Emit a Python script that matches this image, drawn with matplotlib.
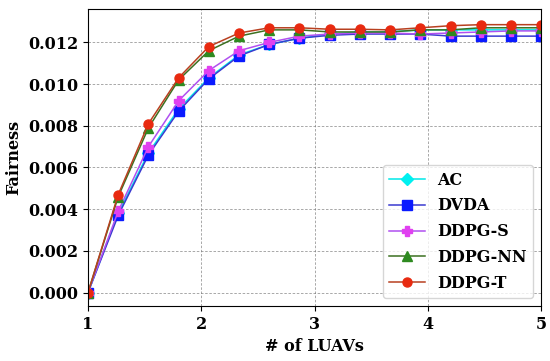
import numpy as np
import matplotlib
matplotlib.use('Agg')
from matplotlib import pyplot as plt

x = np.linspace(1, 5, 16)

ac = [0, 0.0038, 0.0067, 0.0088, 0.0103, 0.0114, 0.0119, 0.0122, 0.0124, 0.0125,
      0.0125, 0.0126, 0.0126, 0.0126, 0.0126, 0.0126]
dvda = [0, 0.0037, 0.0066, 0.0087, 0.01025, 0.01135, 0.0119, 0.0122, 0.01234, 0.0124,
        0.0124, 0.0124, 0.0123, 0.0123, 0.0123, 0.0123]
ddpg_s = [0, 0.0039, 0.0070, 0.0092, 0.01065, 0.0116, 0.0120, 0.0123, 0.0124, 0.01245,
          0.01245, 0.0124, 0.01245, 0.0125, 0.01255, 0.01255]
ddpg_nn = [0, 0.0046, 0.0079, 0.0102, 0.0116, 0.0123, 0.0126, 0.0126, 0.0125, 0.0125,
           0.0125, 0.0126, 0.0126, 0.0127, 0.0127, 0.0127]
ddpg_t = [0, 0.0047, 0.0081, 0.0103, 0.0118, 0.01245, 0.0127, 0.0127, 0.01263, 0.01263,
          0.0126, 0.0127, 0.0128, 0.01285, 0.01285, 0.01285]

series = [
    ('AC', ac, 'D', '#00e8e8', '#00f0f0'),
    ('DVDA', dvda, 's', '#3a3ad0', '#0a1aff'),
    ('DDPG-S', ddpg_s, 'P', '#b050f0', '#e040f0'),
    ('DDPG-NN', ddpg_nn, '^', '#3c7020', '#2e8a20'),
    ('DDPG-T', ddpg_t, 'o', '#b84020', '#e82a10'),
]

plt.rcParams['font.family'] = 'DejaVu Serif'
plt.rcParams['font.weight'] = 'bold'

fig = plt.figure(figsize=(5.5, 3.61), dpi=100)
ax = fig.add_axes([0.16, 0.152, 0.824, 0.823])

for name, vals, mk, lc, mc in series:
    ax.plot(x, vals, color=lc, marker=mk, markersize=6.5, markerfacecolor=mc,
            markeredgecolor=mc, linewidth=1.1, label=name)

ax.set_xlim(1, 5)
ax.set_ylim(-0.00065, 0.0136)
ax.set_xticks([1, 2, 3, 4, 5])
ax.set_yticks([0, 0.002, 0.004, 0.006, 0.008, 0.010, 0.012])
ax.set_yticklabels(['%.3f' % v for v in ax.get_yticks()])
ax.tick_params(labelsize=11.5)
for t in ax.get_xticklabels() + ax.get_yticklabels():
    t.set_fontweight('bold')
ax.grid(True, linestyle=(0, (3, 2)), color='gray', linewidth=0.6, alpha=0.8)
ax.set_xlabel('# of LUAVs', fontsize=11.5, fontweight='bold')
ax.set_ylabel('Fairness', fontsize=11.5, fontweight='bold')
ax.legend(loc='lower right', prop={'size': 11.5, 'weight': 'bold'}, handlelength=2.2,
          labelspacing=0.55, borderaxespad=0.5)

fig.savefig('out.png', dpi=100)
